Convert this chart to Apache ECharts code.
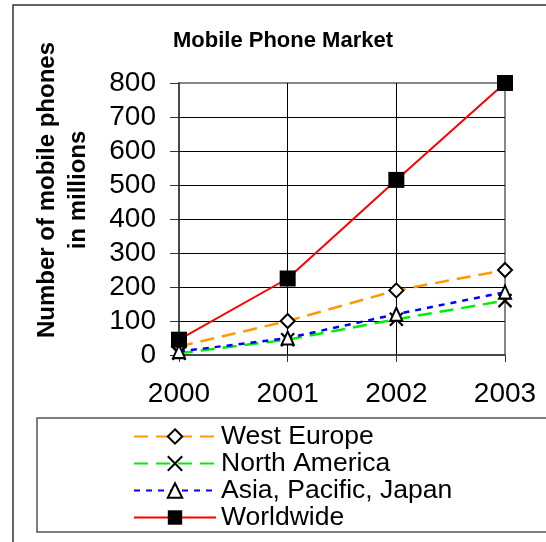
<!DOCTYPE html>
<html><head><meta charset="utf-8">
<script src="https://cdn.jsdelivr.net/npm/echarts@6/dist/echarts.min.js"></script>
<style>html,body{margin:0;padding:0;background:#fff}#c{width:546px;height:542px}</style>
</head><body><div id="c"></div>
<script>
var years = ['2000', '2001', '2002', '2003'];
var westEurope = [25, 100, 190, 250];
var northAmerica = [5, 45, 105, 160];
var asiaPacific = [10, 50, 120, 185];
var worldwide = [45, 225, 515, 800];
var seriesNames = ['West Europe', 'North America', 'Asia, Pacific, Japan', 'Worldwide'];
var yTicks = {min: 0, max: 800, interval: 100};

var FONT = '"Liberation Sans", Arial, sans-serif';
var chart = echarts.init(document.getElementById('c'), null, {renderer: 'canvas'});
var xPath = 'path://M0,0L10,10M10,0L0,10';
chart.setOption({
  backgroundColor: '#fff',
  animation: false,
  title: {
    text: 'Mobile Phone Market', left: 278, top: 25, textAlign: 'center',
    textStyle: {fontFamily: FONT, fontSize: 22, fontWeight: 'bold', color: '#000'}
  },
  grid: {left: 179, right: 41, top: 83, bottom: 187, show: true, borderColor: '#888', borderWidth: 2, backgroundColor: 'transparent'},
  legend: {
    orient: 'vertical', left: 128, top: 418, itemWidth: 82, itemHeight: 18, itemGap: 0, itemTextGap: 5,
    data: seriesNames,
    textStyle: {fontFamily: FONT, fontSize: 26.5, lineHeight: 27, color: '#000'}
  },
  xAxis: {
    type: 'category', data: years, boundaryGap: false,
    axisLine: {lineStyle: {color: '#333', width: 1.5}},
    axisTick: {show: true, length: 7, lineStyle: {color: '#333'}},
    axisLabel: {fontFamily: FONT, fontSize: 28, color: '#000', margin: 25},
    splitLine: {show: true, showMinLine: false, showMaxLine: false, lineStyle: {color: '#000', width: 1}}
  },
  yAxis: {
    type: 'value', min: yTicks.min, max: yTicks.max, interval: yTicks.interval,
    axisLine: {show: true, lineStyle: {color: '#333', width: 1.5}},
    axisTick: {show: true, length: 9, lineStyle: {color: '#333'}},
    axisLabel: {fontFamily: FONT, fontSize: 28, color: '#000', margin: 23},
    splitLine: {show: true, showMinLine: false, showMaxLine: false, lineStyle: {color: '#000', width: 1}}
  },
  graphic: [
    {type: 'rect', shape: {x: 13, y: 5, width: 560, height: 560}, style: {fill: 'none', stroke: '#333', lineWidth: 1.5}, silent: true, z: -10},
    {type: 'rect', shape: {x: 37, y: 418, width: 540, height: 114}, style: {fill: 'none', stroke: '#555', lineWidth: 1.5}, silent: true, z: -10},
    {type: 'text', x: 63, y: 190, rotation: Math.PI / 2,
     style: {text: 'Number of mobile phones\nin millions', fontFamily: FONT, fontSize: 24, fontWeight: 'bold', lineHeight: 31, fill: '#000', align: 'center', verticalAlign: 'middle'}}
  ],
  series: [
    {name: seriesNames[0], type: 'line', data: westEurope, symbol: 'diamond', symbolSize: 14,
     lineStyle: {color: '#FF9900', width: 2.5, type: [14, 8]},
     itemStyle: {color: '#fff', borderColor: '#000', borderWidth: 2}, z: 3},
    {name: seriesNames[1], type: 'line', data: northAmerica, symbol: xPath, symbolSize: 13,
     lineStyle: {color: '#00EE00', width: 2.5, type: [14, 8]},
     itemStyle: {color: 'none', borderColor: '#000', borderWidth: 2.2}, z: 3},
    {name: seriesNames[2], type: 'line', data: asiaPacific, symbol: 'triangle', symbolSize: [12, 13],
     lineStyle: {color: '#0000FF', width: 2.5, type: [6, 6]},
     itemStyle: {color: '#fff', borderColor: '#000', borderWidth: 2}, z: 4},
    {name: seriesNames[3], type: 'line', data: worldwide, symbol: 'rect', symbolSize: 16,
     lineStyle: {color: '#FF0000', width: 2},
     itemStyle: {color: '#000', borderColor: '#000', borderWidth: 0}, z: 5}
  ]
});
</script></body></html>
